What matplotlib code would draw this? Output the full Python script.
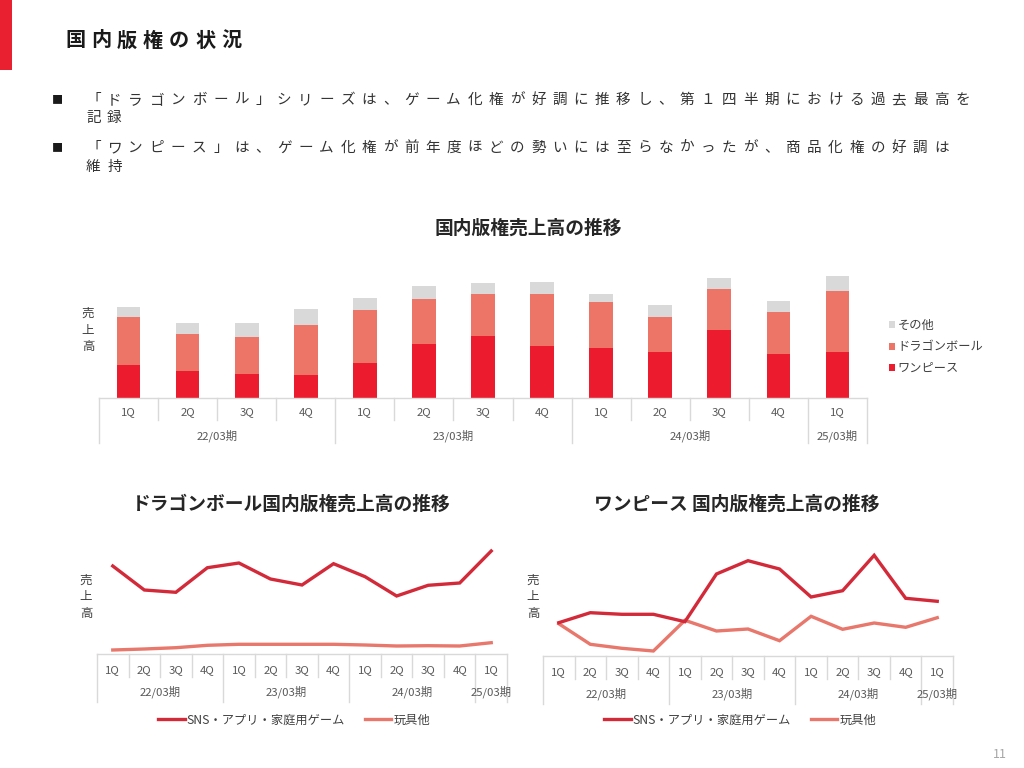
import matplotlib
matplotlib.use('Agg')
import matplotlib.pyplot as plt
from matplotlib.patches import Rectangle
from matplotlib.transforms import blended_transform_factory

plt.rcParams['font.family'] = ['Noto Sans CJK JP', 'DejaVu Sans']

# ---------------- data ----------------
quarters = ['1Q', '2Q', '3Q', '4Q', '1Q', '2Q', '3Q', '4Q', '1Q', '2Q', '3Q', '4Q', '1Q']
periods = ['22/03期', '23/03期', '24/03期', '25/03期']
period_sizes = [4, 4, 4, 1]

onepiece = [33.0, 27.4, 24.0, 22.7, 34.7, 54.3, 62.0, 51.7, 49.7, 46.4, 67.7, 43.7, 46.4]
dragonball = [48.3, 36.3, 36.7, 50.7, 53.3, 44.6, 42.4, 52.7, 46.0, 35.0, 41.0, 42.0, 60.6]
others = [10.0, 11.7, 14.0, 15.3, 12.0, 13.4, 10.6, 11.6, 8.7, 11.6, 11.7, 11.7, 15.4]

db_game = [88.0, 64.0, 61.7, 86.3, 91.0, 75.0, 69.0, 90.3, 77.3, 58.0, 68.7, 71.0, 103.0]
db_toy = [4.0, 5.0, 6.3, 8.7, 9.7, 9.7, 9.7, 9.7, 9.0, 8.0, 8.3, 8.0, 11.3]
op_game = [33.3, 43.3, 41.7, 41.7, 34.3, 82.0, 95.3, 87.0, 59.0, 65.3, 100.7, 57.7, 54.7]
op_toy = [32.3, 11.7, 7.7, 5.0, 35.7, 25.0, 27.0, 15.3, 39.7, 26.7, 33.0, 28.7, 38.3]

slide_title = '国内版権の状況'
bullets = [
    ['「ドラゴンボール」シリーズは、ゲーム化権が好調に推移し、第１四半期における過去最高を', '記録'],
    ['「ワンピース」は、ゲーム化権が前年度ほどの勢いには至らなかったが、商品化権の好調は', '維持'],
]
bar_title = '国内版権売上高の推移'
db_title = 'ドラゴンボール国内版権売上高の推移'
op_title = 'ワンピース 国内版権売上高の推移'
bar_labels = ['ワンピース', 'ドラゴンボール', 'その他']
line_labels = ['SNS・アプリ・家庭用ゲーム', '玩具他']
ylabel = '売\n上\n高'
page_no = '11'

# ---------------- style ----------------
W, H = 1024, 768
C_RED = '#EC1C2E'
C_SALMON = '#EC7567'
C_GRAY = '#D9D9D9'
C_LRED = '#D32A3A'
C_LSAL = '#E8776C'
C_TXT = '#595959'
C_AXIS = '#D9D9D9'

fig = plt.figure(figsize=(W / 100, H / 100), dpi=100)
fig.patch.set_facecolor('white')


def fx(px):
    return px / W


def fy(py):
    return 1 - py / H


def axes_px(left, top, right, bottom):
    return fig.add_axes([fx(left), fy(bottom), (right - left) / W, (bottom - top) / H])


def spaced(x0, y, s, pitch, **kw):
    for i, ch in enumerate(s):
        fig.text(fx(x0 + i * pitch), fy(y), ch, ha='left', va='center', **kw)


def cat_axis(ax, y_base, y_qline, y_pline, y_q, y_p):
    tr = blended_transform_factory(ax.transData, fig.transFigure)
    n = len(quarters)
    ax.plot([-0.5, n - 0.5], [fy(y_base)] * 2, color=C_AXIS, lw=1.0,
            transform=tr, clip_on=False)
    bounds = [0]
    for s in period_sizes:
        bounds.append(bounds[-1] + s)
    for i in range(n + 1):
        ybot = y_pline if i in bounds else y_qline
        ax.plot([i - 0.5, i - 0.5], [fy(y_base), fy(ybot)], color=C_AXIS, lw=1.0,
                transform=tr, clip_on=False)
    for i, q in enumerate(quarters):
        ax.text(i, fy(y_q), q, transform=tr, ha='center', va='center',
                fontsize=8.2, color=C_TXT)
    for k, p in enumerate(periods):
        c = (bounds[k] + bounds[k + 1] - 1) / 2
        ax.text(c, fy(y_p), p, transform=tr, ha='center', va='center',
                fontsize=8.2, color=C_TXT)


# ---------------- slide header ----------------
fig.add_artist(Rectangle((0, fy(70)), fx(12), 70 / H, transform=fig.transFigure,
                         color='#E8202F', lw=0))
spaced(65, 40, slide_title, 26, fontsize=14.5, fontweight='bold', color='#1a1a1a')

line_y = [[100, 118], [148, 167]]
for b, ys in zip(bullets, line_y):
    fig.text(fx(57), fy(ys[0]), '■', ha='center', va='center', fontsize=8, color='#1a1a1a')
    for txt, yy in zip(b, ys):
        spaced(86, yy, txt, 21.2, fontsize=10.5, color='#333333')

fig.text(fx(1000), fy(755), page_no, ha='center', va='center', fontsize=9, color='#A6A6A6')

# ---------------- stacked bar chart ----------------
x = list(range(len(quarters)))
ax = axes_px(99, 260, 867, 398)
ax.bar(x, onepiece, width=0.4, color=C_RED, label=bar_labels[0])
ax.bar(x, dragonball, width=0.4, bottom=onepiece, color=C_SALMON, label=bar_labels[1])
bot2 = [a + b for a, b in zip(onepiece, dragonball)]
ax.bar(x, others, width=0.4, bottom=bot2, color=C_GRAY, label=bar_labels[2])
ax.set_xlim(-0.5, len(quarters) - 0.5)
ax.set_ylim(0, 138)
ax.axis('off')
cat_axis(ax, 398, 420, 443, 412, 436)
fig.text(fx(528), fy(228), bar_title, ha='center', va='center', fontsize=13.5,
         fontweight='bold', color='#262626')
fig.text(fx(88), fy(330), ylabel, ha='center', va='center', fontsize=9,
         color='#404040', linespacing=1.35)
h, l = ax.get_legend_handles_labels()
fig.legend(h[::-1], l[::-1], loc='center left', bbox_to_anchor=(fx(878), fy(347)),
           frameon=False, fontsize=8.8, handlelength=0.5, handleheight=0.5,
           handletextpad=0.2, labelspacing=0.7, labelcolor='#404040')

# ---------------- line charts ----------------
def line_chart(left, right, base, top, game, toy, title, tcx, ylx):
    a = axes_px(left, top, right, base)
    a.plot(x, toy, color=C_LSAL, lw=2.4, label=line_labels[1], solid_joinstyle='miter')
    a.plot(x, game, color=C_LRED, lw=2.4, label=line_labels[0], solid_joinstyle='miter')
    a.set_xlim(-0.5, len(quarters) - 0.5)
    a.set_ylim(0, base - top)
    a.axis('off')
    cat_axis(a, base, base + 23, base + 48, base + 16, base + 38)
    fig.text(fx(tcx), fy(504), title, ha='center', va='center', fontsize=13.5,
             fontweight='bold', color='#262626')
    fig.text(fx(ylx), fy(597), ylabel, ha='center', va='center', fontsize=9,
             color='#404040', linespacing=1.35)
    hh, ll = a.get_legend_handles_labels()
    a.legend(hh[::-1], ll[::-1], ncol=2, loc='center',
             bbox_to_anchor=(fx((left + right) / 2 - 8), fy(720)),
             bbox_transform=fig.transFigure, frameon=False, fontsize=8.8,
             handlelength=2.2, handletextpad=0.15, columnspacing=1.6,
             labelcolor='#404040')
    return a


line_chart(97, 507, 654, 540, db_game, db_toy, db_title, 291, 86)
line_chart(543, 953, 656, 540, op_game, op_toy, op_title, 737, 533)

fig.savefig('out.png', dpi=100)
